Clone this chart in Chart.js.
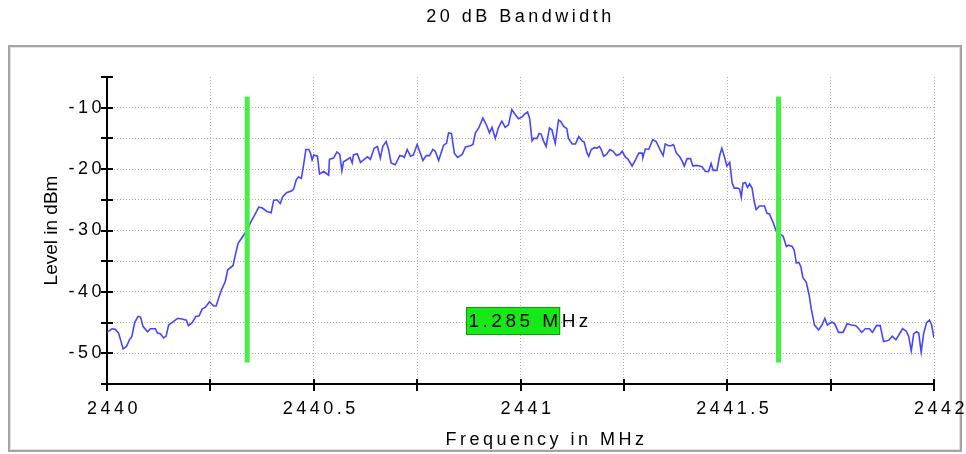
<!DOCTYPE html>
<html>
<head>
<meta charset="utf-8">
<title>20 dB Bandwidth</title>
<script src="https://cdn.jsdelivr.net/npm/chart.js@4.4.1/dist/chart.umd.min.js"></script>
<style>
  html, body { margin: 0; padding: 0; background: #fff; }
  canvas { display: block; }
</style>
</head>
<body>
<canvas id="myChart" width="966" height="454"></canvas>
<script>
// trace
var freqMHz = [
  2440.000, 2440.012, 2440.020, 2440.028, 2440.034, 2440.039, 2440.047, 2440.055, 2440.060, 2440.067,
  2440.075, 2440.081, 2440.087, 2440.098, 2440.105, 2440.117, 2440.122, 2440.129, 2440.137, 2440.143,
  2440.149, 2440.157, 2440.171, 2440.181, 2440.192, 2440.197, 2440.206, 2440.215, 2440.223, 2440.230,
  2440.238, 2440.248, 2440.258, 2440.264, 2440.270, 2440.278, 2440.286, 2440.292, 2440.305, 2440.310,
  2440.317, 2440.325, 2440.332, 2440.339, 2440.347, 2440.356, 2440.367, 2440.375, 2440.387, 2440.397,
  2440.403, 2440.411, 2440.419, 2440.425, 2440.435, 2440.445, 2440.451, 2440.458, 2440.463, 2440.470,
  2440.475, 2440.481, 2440.488, 2440.492, 2440.496, 2440.500, 2440.509, 2440.514, 2440.524, 2440.532,
  2440.536, 2440.538, 2440.548, 2440.556, 2440.563, 2440.568, 2440.572, 2440.582, 2440.588, 2440.593,
  2440.596, 2440.605, 2440.613, 2440.622, 2440.630, 2440.637, 2440.646, 2440.654, 2440.661, 2440.667,
  2440.675, 2440.681, 2440.687, 2440.697, 2440.708, 2440.716, 2440.719, 2440.726, 2440.734, 2440.741,
  2440.750, 2440.756, 2440.764, 2440.772, 2440.780, 2440.788, 2440.794, 2440.802, 2440.814, 2440.821,
  2440.826, 2440.833, 2440.840, 2440.848, 2440.859, 2440.867, 2440.879, 2440.885, 2440.891, 2440.899,
  2440.909, 2440.917, 2440.925, 2440.931, 2440.939, 2440.947, 2440.955, 2440.963, 2440.971, 2440.979,
  2440.987, 2440.995, 2441.004, 2441.009, 2441.017, 2441.022, 2441.028, 2441.032, 2441.040, 2441.045,
  2441.050, 2441.056, 2441.062, 2441.070, 2441.076, 2441.084, 2441.092, 2441.098, 2441.104, 2441.112,
  2441.116, 2441.125, 2441.133, 2441.141, 2441.149, 2441.154, 2441.161, 2441.165, 2441.171, 2441.179,
  2441.185, 2441.191, 2441.195, 2441.201, 2441.208, 2441.216, 2441.224, 2441.232, 2441.240, 2441.246,
  2441.254, 2441.259, 2441.270, 2441.278, 2441.286, 2441.294, 2441.296, 2441.302, 2441.310, 2441.320,
  2441.328, 2441.338, 2441.345, 2441.350, 2441.358, 2441.364, 2441.370, 2441.377, 2441.385, 2441.391,
  2441.396, 2441.403, 2441.411, 2441.417, 2441.425, 2441.433, 2441.439, 2441.447, 2441.455, 2441.461,
  2441.466, 2441.475, 2441.482, 2441.487, 2441.494, 2441.499, 2441.506, 2441.512, 2441.517, 2441.525,
  2441.530, 2441.534, 2441.538, 2441.544, 2441.549, 2441.554, 2441.560, 2441.565, 2441.570, 2441.578,
  2441.590, 2441.596, 2441.602, 2441.611, 2441.619, 2441.627, 2441.635, 2441.643, 2441.648, 2441.657,
  2441.662, 2441.667, 2441.673, 2441.678, 2441.683, 2441.691, 2441.698, 2441.703, 2441.711, 2441.721,
  2441.729, 2441.736, 2441.742, 2441.753, 2441.760, 2441.769, 2441.780, 2441.790, 2441.800, 2441.811,
  2441.818, 2441.825, 2441.834, 2441.844, 2441.851, 2441.861, 2441.870, 2441.878, 2441.890, 2441.899,
  2441.908, 2441.916, 2441.924, 2441.933, 2441.939, 2441.945, 2441.951, 2441.958, 2441.963, 2441.969,
  2441.975, 2441.982, 2441.989, 2441.994, 2442.000
]
var levelDbm = [
  -46.6, -46.0, -46.1, -46.7, -48.1, -49.3, -48.9, -47.7, -47.3, -45.0,
  -44.0, -44.1, -45.6, -46.5, -46.0, -46.0, -46.7, -46.8, -47.5, -47.2,
  -45.4, -45.0, -44.3, -44.4, -44.6, -45.5, -45.0, -44.0, -43.9, -42.8,
  -42.5, -41.6, -42.3, -42.3, -41.0, -39.5, -38.3, -36.4, -35.7, -34.1,
  -32.1, -31.3, -30.6, -30.0, -28.7, -27.6, -26.2, -26.3, -26.9, -27.1,
  -25.1, -25.0, -25.6, -24.5, -23.8, -23.6, -23.3, -21.7, -21.3, -21.5,
  -19.5, -16.8, -16.8, -17.4, -18.5, -17.7, -17.9, -20.8, -20.4, -20.8,
  -21.0, -18.4, -18.2, -17.2, -17.6, -20.3, -18.8, -18.4, -18.1, -19.0,
  -17.7, -17.5, -18.9, -18.4, -18.0, -18.4, -16.6, -16.3, -18.2, -16.3,
  -15.5, -16.8, -19.0, -19.3, -17.8, -17.9, -18.1, -16.8, -17.9, -17.7,
  -16.0, -17.1, -18.6, -17.8, -17.8, -16.8, -17.1, -18.6, -16.1, -15.8,
  -14.1, -14.2, -17.4, -18.1, -17.6, -16.4, -16.2, -16.0, -14.1, -13.3,
  -11.7, -12.7, -14.1, -13.2, -15.0, -13.2, -12.2, -13.2, -12.8, -10.3,
  -11.1, -11.8, -11.5, -11.1, -10.7, -11.7, -15.4, -15.0, -15.0, -14.2,
  -14.3, -15.5, -16.3, -13.3, -13.6, -15.8, -12.0, -12.3, -13.0, -13.4,
  -15.0, -15.9, -15.9, -14.7, -15.4, -15.6, -17.4, -17.9, -16.8, -16.5,
  -16.6, -16.3, -16.8, -17.9, -17.6, -16.8, -17.1, -17.8, -17.6, -17.1,
  -18.1, -18.3, -19.5, -18.5, -17.4, -17.4, -18.1, -16.7, -16.8, -15.2,
  -15.5, -16.9, -17.8, -15.9, -16.2, -16.2, -16.0, -17.4, -18.0, -18.7,
  -19.5, -18.3, -18.3, -19.5, -19.4, -19.5, -19.6, -20.4, -20.4, -19.1,
  -20.2, -20.2, -17.7, -16.6, -18.2, -19.5, -18.9, -22.3, -23.1, -23.1,
  -23.3, -24.6, -22.3, -22.2, -23.0, -22.4, -23.1, -25.2, -26.6, -26.0,
  -26.0, -27.2, -27.3, -28.7, -30.2, -30.6, -30.9, -32.6, -32.4, -32.6,
  -33.2, -35.3, -35.2, -35.9, -37.7, -38.4, -40.5, -42.7, -45.4, -46.2,
  -45.4, -44.3, -45.4, -44.9, -45.2, -46.6, -46.6, -45.2, -45.4, -45.5,
  -46.0, -46.6, -46.0, -46.0, -46.6, -45.5, -45.5, -48.1, -47.9, -47.2,
  -47.8, -46.9, -46.0, -46.4, -47.3, -49.6, -46.8, -46.5, -46.7, -49.8,
  -46.8, -45.0, -44.6, -45.3, -47.5
]

// the two 20 dB markers and the readout between them
var markerFreqs = [2440.339, 2441.624]
var markerSpan = [-8.2, -51.5]
var bandwidthText = '1.285 MHz'
var readoutLevel = -44.7

var xRange = [2440, 2442], xStep = 0.25, xLabelStep = 0.5
var yRange = [-55, -5], yStep = 5, yLabelStep = 10

var chartTitle = '20 dB Bandwidth'
var xTitle = 'Frequency in MHz'
var yTitle = 'Level in dBm'

var FONT = "'Liberation Sans', Arial, sans-serif"
var SPACING = '3.5px'

Chart.defaults.font.family = FONT
Chart.defaults.color = '#000'

function onStep (v, step) {
  var k = v / step
  return Math.abs(k - Math.round(k)) < 1e-6
}

var decor = {
  id: 'decor',
  beforeUpdate: function (chart) {
    chart.ctx.letterSpacing = SPACING
  },
  afterUpdate: function (chart) {
    // y axis title is plain, everything else is spaced out
    var s = chart.scales.y
    if (!s._plainTitle) {
      var orig = s.drawTitle
      s.drawTitle = function () {
        var c = this.ctx
        var prev = c.letterSpacing
        c.letterSpacing = '0px'
        orig.apply(this, arguments)
        c.letterSpacing = prev
      }
      s._plainTitle = true
    }
  },
  beforeDraw: function (chart) {
    var c = chart.ctx
    c.save()
    c.strokeStyle = '#a4a4a4'
    c.lineWidth = 2
    c.strokeRect(9, 46, 952, 405)
    c.strokeStyle = '#e2e2e2'
    c.lineWidth = 1
    c.strokeRect(10.5, 47.5, 949, 402)
    c.restore()
    c.letterSpacing = SPACING
  },
  afterDraw: function (chart) {
    var c = chart.ctx
    var xs = chart.scales.x, ys = chart.scales.y
    var area = chart.chartArea

    // tick marks crossing the axes
    c.save()
    c.strokeStyle = '#000'
    c.lineWidth = 2
    c.beginPath()
    xs.ticks.forEach(function (t) {
      var px = Math.round(xs.getPixelForValue(t.value))
      c.moveTo(px, area.bottom - 5)
      c.lineTo(px, area.bottom + 7)
    })
    ys.ticks.forEach(function (t) {
      var py = Math.round(ys.getPixelForValue(t.value))
      c.moveTo(area.left - 6, py)
      c.lineTo(area.left + 6, py)
    })
    c.stroke()

    // x axis title
    c.letterSpacing = SPACING
    c.font = '18px ' + FONT
    c.fillStyle = '#000'
    c.textAlign = 'center'
    c.textBaseline = 'middle'
    c.fillText(xTitle, (area.left + area.right) / 2 + 26, chart.height - 14)

    // bandwidth readout
    var mid = (xs.getPixelForValue(markerFreqs[0]) + xs.getPixelForValue(markerFreqs[1])) / 2
    var cy = ys.getPixelForValue(readoutLevel)
    c.font = '19px ' + FONT
    var boxed = bandwidthText.slice(0, bandwidthText.indexOf('M') + 1)
    var w = c.measureText(boxed).width + 1
    var left = Math.round(mid - w / 2)
    var top = Math.round(cy - 14)
    c.fillStyle = '#17e817'
    c.fillRect(left, top, w, 28)
    c.strokeStyle = '#0f9a0f'
    c.lineWidth = 1
    c.strokeRect(left + 0.5, top + 0.5, w - 1, 27)
    c.fillStyle = '#000'
    c.textAlign = 'left'
    c.fillText(bandwidthText, left + 2.5, cy + 1)
    c.restore()
  }
}

var traceData = freqMHz.map(function (f, i) { return { x: f, y: levelDbm[i] } })
var markerSets = markerFreqs.map(function (f) {
  return {
    label: 'marker',
    data: [{ x: f, y: markerSpan[0] }, { x: f, y: markerSpan[1] }],
    borderColor: '#46ee46',
    borderWidth: 5,
    borderCapStyle: 'butt',
    pointRadius: 0
  }
})

var ctx = document.getElementById('myChart').getContext('2d')
var myChart = new Chart(ctx, {
  type: 'line',
  data: {
    datasets: markerSets.concat([{
      label: 'Level',
      data: traceData,
      borderColor: '#4646ff',
      borderWidth: 1.6,
      pointRadius: 0,
      tension: 0
    }])
  },
  plugins: [decor],
  options: {
    responsive: false,
    devicePixelRatio: 1,
    animation: false,
    layout: { padding: { left: 0, right: 32, top: 0, bottom: 0 } },
    plugins: {
      legend: { display: false },
      tooltip: { enabled: false },
      title: {
        display: true,
        text: chartTitle,
        fullSize: false,
        font: { size: 18, weight: 'normal' },
        color: '#000',
        padding: { top: 6.2, bottom: 49.2 }
      }
    },
    scales: {
      x: {
        type: 'linear',
        min: xRange[0],
        max: xRange[1],
        afterFit: function (s) {
          s.height = 70
          s.paddingLeft = 0
          s.paddingRight = 0
        },
        ticks: {
          stepSize: xStep,
          autoSkip: false,
          maxRotation: 0,
          padding: 14,
          labelOffset: 7,
          font: { size: 18 },
          color: '#000',
          callback: function (v) {
            return onStep(v, xLabelStep) ? String(Math.round(v * 10) / 10) : ''
          }
        },
        grid: {
          drawTicks: false,
          lineWidth: 1,
          color: function (c) {
            return c.tick && c.tick.value === xRange[0] ? 'rgba(0,0,0,0)' : '#b2b2b2'
          }
        },
        border: { color: '#000', width: 2, dash: [1, 2] }
      },
      y: {
        type: 'linear',
        min: yRange[0],
        max: yRange[1],
        afterFit: function (s) { s.width = 107 },
        ticks: {
          stepSize: yStep,
          padding: 2,
          font: { size: 18 },
          color: '#000',
          callback: function (v) {
            return onStep(v, yLabelStep) ? String(v) : ''
          }
        },
        grid: {
          drawTicks: false,
          lineWidth: 1,
          color: function (c) {
            if (!c.tick) return '#b2b2b2'
            return (c.tick.value === yRange[1] || c.tick.value === yRange[0]) ? 'rgba(0,0,0,0)' : '#b2b2b2'
          }
        },
        border: { color: '#000', width: 2, dash: [1, 2] },
        title: {
          display: true,
          text: yTitle,
          font: { size: 19 },
          color: '#000',
          padding: { top: 40.6, bottom: 0 }
        }
      }
    }
  }
})
</script>
</body>
</html>
